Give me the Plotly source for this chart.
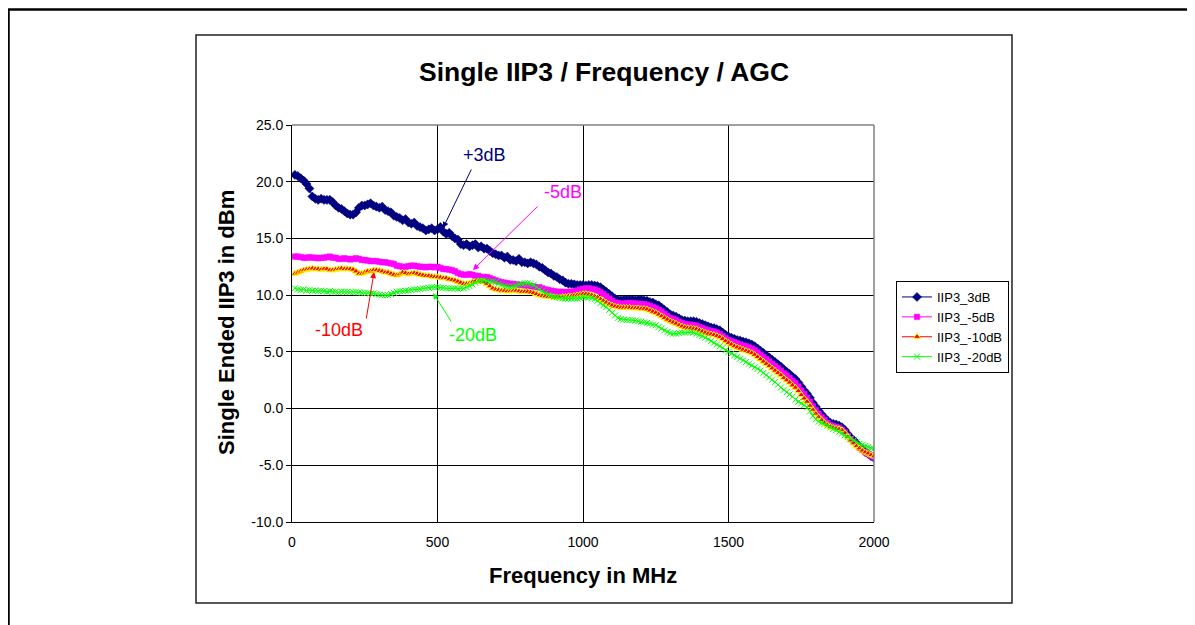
import plotly.graph_objects as go

freq_mhz = list(range(10, 2001, 10))

iip3_3db = [
    20.6, 20.5, 20.3, 20.1, 19.8, 19.4, 18.7, 18.5, 18.4, 18.5,
    18.4, 18.4, 18.4, 18.2, 17.9, 17.7, 17.6, 17.4, 17.2, 17.1,
    17.1, 17.3, 17.7, 17.9, 17.9, 18.0, 18.1, 17.9, 17.8, 17.7,
    17.8, 17.5, 17.4, 17.3, 17.0, 16.9, 16.8, 16.6, 16.7, 16.4,
    16.3, 16.4, 16.1, 16.0, 15.9, 15.7, 15.8, 15.9, 15.7, 15.8,
    16.0, 15.6, 15.4, 15.5, 15.2, 15.0, 14.9, 14.5, 14.4, 14.5,
    14.3, 14.4, 14.5, 14.2, 14.3, 14.1, 14.1, 13.9, 13.7, 13.6,
    13.5, 13.5, 13.3, 13.4, 13.1, 13.1, 13.0, 13.2, 12.9, 12.9,
    12.8, 12.9, 12.8, 12.7, 12.5, 12.4, 12.2, 12.0, 11.9, 11.7,
    11.6, 11.4, 11.3, 11.1, 11.0, 11.0, 10.95, 10.9, 10.9, 10.9,
    10.85, 10.9, 10.9, 10.85, 10.8, 10.7, 10.5, 10.3, 10.1, 9.9,
    9.7, 9.6, 9.55, 9.6, 9.6, 9.6, 9.6, 9.55, 9.6, 9.6,
    9.55, 9.5, 9.4, 9.35, 9.2, 9.1, 8.9, 8.7, 8.5, 8.3,
    8.2, 8.1, 7.95, 7.8, 7.75, 7.7, 7.7, 7.7, 7.65, 7.55,
    7.45, 7.35, 7.25, 7.15, 7.1, 7.0, 6.9, 6.7, 6.5, 6.35,
    6.25, 6.15, 6.05, 6.0, 5.9, 5.85, 5.75, 5.65, 5.5, 5.3,
    5.1, 4.9, 4.7, 4.5, 4.3, 4.1, 3.9, 3.7, 3.45, 3.25,
    3.05, 2.8, 2.6, 2.3, 1.95, 1.6, 1.3, 0.95, 0.5, 0.15,
    -0.2, -0.5, -0.8, -1.05, -1.25, -1.35, -1.4, -1.5, -1.65, -1.9,
    -2.25, -2.55, -2.8, -3.05, -3.35, -3.6, -3.85, -4.0, -4.2, -4.35,
]

iip3_m5db = [
    13.4, 13.4, 13.35, 13.3, 13.3, 13.35, 13.3, 13.3, 13.25, 13.3,
    13.3, 13.35, 13.4, 13.3, 13.3, 13.2, 13.2, 13.25, 13.2, 13.15,
    13.2, 13.25, 13.2, 13.1, 13.1, 13.05, 13.0, 13.0, 13.0, 12.95,
    12.9, 12.9, 12.85, 12.8, 12.75, 12.6, 12.55, 12.5, 12.5, 12.55,
    12.6, 12.6, 12.55, 12.5, 12.5, 12.45, 12.5, 12.5, 12.45, 12.5,
    12.4, 12.3, 12.3, 12.25, 12.2, 12.1, 11.95, 11.85, 11.8, 11.8,
    11.85, 11.8, 11.7, 11.7, 11.6, 11.6, 11.6, 11.5, 11.4, 11.3,
    11.2, 11.15, 11.1, 11.05, 11.0, 11.0, 10.95, 10.9, 10.9, 10.85,
    10.8, 10.8, 10.75, 10.7, 10.7, 10.6, 10.5, 10.45, 10.4, 10.35,
    10.3, 10.3, 10.3, 10.25, 10.3, 10.3, 10.35, 10.4, 10.5, 10.55,
    10.6, 10.6, 10.55, 10.5, 10.4, 10.25, 10.1, 9.9, 9.7, 9.5,
    9.35, 9.3, 9.25, 9.25, 9.3, 9.3, 9.3, 9.25, 9.25, 9.2,
    9.2, 9.15, 9.05, 8.95, 8.85, 8.7, 8.55, 8.35, 8.15, 8.0,
    7.9, 7.8, 7.65, 7.55, 7.45, 7.4, 7.4, 7.35, 7.3, 7.2,
    7.1, 7.0, 6.9, 6.85, 6.8, 6.7, 6.55, 6.4, 6.2, 6.05,
    5.95, 5.85, 5.75, 5.65, 5.55, 5.5, 5.4, 5.3, 5.15, 4.95,
    4.75, 4.55, 4.35, 4.15, 3.95, 3.75, 3.55, 3.35, 3.1, 2.9,
    2.7, 2.45, 2.25, 1.95, 1.6, 1.3, 0.95, 0.6, 0.2, -0.15,
    -0.45, -0.75, -1.0, -1.25, -1.45, -1.55, -1.6, -1.7, -1.85, -2.1,
    -2.4, -2.7, -2.95, -3.2, -3.45, -3.65, -3.85, -4.0, -4.15, -4.3,
]

iip3_m10db = [
    11.9, 12.0, 12.1, 12.2, 12.25, 12.3, 12.35, 12.3, 12.3, 12.25,
    12.3, 12.3, 12.2, 12.2, 12.25, 12.3, 12.35, 12.3, 12.3, 12.3,
    12.25, 12.1, 11.9, 11.9, 12.0, 12.1, 12.1, 12.2, 12.2, 12.15,
    12.1, 12.0, 12.0, 11.9, 11.8, 11.75, 11.85, 12.0, 11.95, 11.85,
    11.9, 11.95, 11.9, 11.8, 11.75, 11.7, 11.7, 11.65, 11.6, 11.6,
    11.55, 11.5, 11.5, 11.4, 11.35, 11.3, 11.2, 11.1, 11.0, 11.0,
    11.05, 11.15, 11.2, 11.2, 11.2, 11.15, 11.0, 10.8, 10.6, 10.5,
    10.45, 10.4, 10.4, 10.35, 10.35, 10.4, 10.4, 10.35, 10.3, 10.3,
    10.3, 10.25, 10.2, 10.1, 10.0, 9.95, 9.9, 9.85, 9.85, 9.8,
    9.8, 9.8, 9.85, 9.85, 9.9, 9.9, 9.95, 10.0, 10.05, 10.1,
    10.1, 10.05, 10.0, 9.9, 9.8, 9.65, 9.5, 9.35, 9.2, 9.1,
    9.0, 8.95, 8.9, 8.9, 8.9, 8.9, 8.85, 8.85, 8.85, 8.8,
    8.8, 8.75, 8.65, 8.55, 8.45, 8.3, 8.15, 8.0, 7.85, 7.7,
    7.6, 7.5, 7.35, 7.25, 7.15, 7.1, 7.1, 7.05, 7.0, 6.9,
    6.8, 6.7, 6.6, 6.55, 6.5, 6.4, 6.3, 6.15, 5.95, 5.8,
    5.65, 5.5, 5.4, 5.3, 5.2, 5.1, 5.0, 4.9, 4.75, 4.55,
    4.35, 4.15, 3.95, 3.75, 3.55, 3.35, 3.15, 2.95, 2.7, 2.5,
    2.3, 2.05, 1.85, 1.55, 1.2, 0.9, 0.6, 0.25, -0.1, -0.45,
    -0.75, -1.0, -1.25, -1.45, -1.6, -1.7, -1.75, -1.8, -1.9, -2.15,
    -2.5, -2.8, -3.05, -3.3, -3.5, -3.7, -3.85, -3.95, -4.1, -4.2,
]

iip3_m20db = [
    10.6, 10.5, 10.45, 10.5, 10.4, 10.45, 10.4, 10.4, 10.35, 10.4,
    10.35, 10.3, 10.35, 10.3, 10.3, 10.25, 10.3, 10.3, 10.3, 10.25,
    10.25, 10.3, 10.25, 10.2, 10.2, 10.2, 10.15, 10.15, 10.1, 10.05,
    10.0, 10.0, 10.0, 10.1, 10.2, 10.3, 10.35, 10.35, 10.4, 10.4,
    10.45, 10.5, 10.5, 10.55, 10.6, 10.6, 10.65, 10.7, 10.7, 10.7,
    10.65, 10.65, 10.6, 10.6, 10.6, 10.6, 10.55, 10.6, 10.6, 10.7,
    10.8, 10.95, 11.1, 11.25, 11.3, 11.3, 11.25, 11.2, 11.2, 11.15,
    11.0, 10.9, 10.8, 10.75, 10.7, 10.75, 10.85, 10.95, 11.0, 11.05,
    11.05, 11.0, 10.9, 10.7, 10.5, 10.35, 10.2, 10.05, 9.95, 9.85,
    9.8, 9.75, 9.7, 9.7, 9.7, 9.7, 9.7, 9.7, 9.75, 9.8,
    9.8, 9.8, 9.75, 9.65, 9.5, 9.3, 9.1, 8.95, 8.7, 8.45,
    8.2, 8.0, 7.9, 7.85, 7.8, 7.8, 7.8, 7.75, 7.7, 7.65,
    7.6, 7.55, 7.5, 7.4, 7.35, 7.2, 7.05, 6.9, 6.75, 6.65,
    6.6, 6.6, 6.65, 6.7, 6.7, 6.75, 6.75, 6.7, 6.6, 6.5,
    6.4, 6.25, 6.1, 5.95, 5.8, 5.65, 5.5, 5.35, 5.15, 5.0,
    4.85, 4.7, 4.55, 4.4, 4.25, 4.1, 3.95, 3.8, 3.65, 3.5,
    3.35, 3.15, 2.95, 2.75, 2.55, 2.35, 2.1, 1.85, 1.65, 1.45,
    1.25, 1.05, 0.8, 0.6, 0.45, 0.3, 0.1, -0.25, -0.65, -0.95,
    -1.15, -1.25, -1.35, -1.5, -1.65, -1.8, -1.9, -2.05, -2.2, -2.35,
    -2.5, -2.65, -2.8, -2.95, -3.1, -3.2, -3.3, -3.4, -3.5, -3.55,
]

series_names = ["IIP3_3dB", "IIP3_-5dB", "IIP3_-10dB", "IIP3_-20dB"]
x_ticks = [0, 500, 1000, 1500, 2000]
y_ticks = [-10, -5, 0, 5, 10, 15, 20, 25]

FONT = "Arial, Liberation Sans, sans-serif"

fig = go.Figure()
fig.add_trace(go.Scatter(
    x=freq_mhz, y=iip3_3db, name=series_names[0], mode="lines+markers",
    line=dict(color="#000080", width=1),
    marker=dict(symbol="diamond", size=7, color="#000080", line=dict(color="#000080", width=0.5)),
))
fig.add_trace(go.Scatter(
    x=freq_mhz, y=iip3_m5db, name=series_names[1], mode="lines+markers",
    line=dict(color="#FF00FF", width=1),
    marker=dict(symbol="square", size=5.5, color="#FF00FF", line=dict(color="#FF00FF", width=0.5)),
))
fig.add_trace(go.Scatter(
    x=freq_mhz, y=iip3_m10db, name=series_names[2], mode="lines+markers",
    line=dict(color="#FF0000", width=1),
    marker=dict(symbol="triangle-up", size=6.5, color="#FF0000", line=dict(color="#FFFF00", width=1)),
))
fig.add_trace(go.Scatter(
    x=freq_mhz, y=iip3_m20db, name=series_names[3], mode="lines+markers",
    line=dict(color="#00FF00", width=1),
    marker=dict(symbol="x-thin", size=6, color="#00FF00", line=dict(color="#00FF00", width=1)),
))

# page has an 8px body margin: figure origin sits at (8, 8) in the screenshot
OFF = 8
FW, FH = 1195 - OFF, 625 - OFF
L, T = 292 - OFF, 125 - OFF
W, H = 582, 397
R, B = FW - L - W, FH - T - H


def px(x):
    return (x - OFF - L) / W


def py(y):
    return (OFF + T + H - y) / H


shapes = [
    # outer frame (top and left visible)
    dict(type="rect", xref="paper", yref="paper", x0=px(8.5), x1=px(1230), y0=py(660), y1=py(9.5),
         line=dict(color="black", width=2.5), fillcolor="rgba(0,0,0,0)"),
    # chart area box
    dict(type="rect", xref="paper", yref="paper", x0=px(196), x1=px(1012), y0=py(603), y1=py(35),
         line=dict(color="#222222", width=1.5), fillcolor="rgba(0,0,0,0)"),
    # plot area top/right border (gray)
    dict(type="line", xref="paper", yref="paper", x0=0, x1=1, y0=1, y1=1,
         line=dict(color="#808080", width=1.5)),
    dict(type="line", xref="paper", yref="paper", x0=1, x1=1, y0=0, y1=1,
         line=dict(color="#808080", width=1.5)),
]

annotations = [
    dict(text="<b>Single IIP3 / Frequency / AGC</b>", xref="paper", yref="paper",
         x=px(604), y=py(72), showarrow=False, font=dict(size=26.5, color="black", family=FONT),
         xanchor="center", yanchor="middle"),
    dict(text="<b>Frequency in MHz</b>", xref="paper", yref="paper",
         x=px(583), y=py(575), showarrow=False, font=dict(size=22, color="black", family=FONT),
         xanchor="center", yanchor="middle"),
    dict(text="<b>Single Ended IIP3 in dBm</b>", xref="paper", yref="paper",
         x=px(226), y=py(323), showarrow=False, textangle=-90,
         font=dict(size=22, color="black", family=FONT), xanchor="center", yanchor="middle"),
]

# label texts and arrows (data coordinates)
labels = [
    ("+3dB", "#000080", 660, 22.35, 519, 15.92, 29, -60),
    ("-5dB", "#FF00FF", 931, 19.1, 622, 12.22, 66, -65),
    ("-10dB", "#FF0000", 162, 6.93, 282, 12.04, -8, 48),
    ("-20dB", "#00FF00", 622, 6.49, 485, 10.19, 19, 30),
]
for txt, col, tx, ty, ax_, ay_, dx, dy in labels:
    annotations.append(dict(text=txt, x=tx, y=ty, xref="x", yref="y", showarrow=False,
                            font=dict(size=18, color=col, family=FONT)))
    annotations.append(dict(text="", x=ax_, y=ay_, xref="x", yref="y", showarrow=True,
                            ax=dx, ay=dy, arrowcolor=col, arrowwidth=1, arrowhead=2,
                            arrowsize=1.2, standoff=0, startstandoff=0))

fig.update_layout(
    width=FW, height=FH,
    margin=dict(l=L, r=R, t=T, b=B, autoexpand=False),
    paper_bgcolor="white", plot_bgcolor="white",
    font=dict(family=FONT, color="black", size=14),
    showlegend=True,
    legend=dict(x=px(896), y=py(281), xanchor="left", yanchor="top",
                bordercolor="black", borderwidth=1, bgcolor="white",
                font=dict(size=13, family=FONT, color="black"),
                tracegroupgap=0, itemwidth=30),
    shapes=shapes,
    annotations=annotations,
)
fig.update_xaxes(
    range=[0, 2000], tickvals=x_ticks, ticktext=[str(v) for v in x_ticks],
    showgrid=True, gridcolor="black", gridwidth=1,
    showline=True, linecolor="black", linewidth=1,
    ticks="outside", ticklen=7, tickcolor="rgba(0,0,0,0)",
    zeroline=False, tickfont=dict(size=14, family=FONT, color="black"),
)
fig.update_yaxes(
    range=[-10, 25], tickvals=y_ticks, ticktext=[f"{v:.1f}" for v in y_ticks],
    showgrid=True, gridcolor="black", gridwidth=1,
    showline=True, linecolor="black", linewidth=1,
    ticks="outside", ticklen=5, tickcolor="black",
    zeroline=False, tickfont=dict(size=14, family=FONT, color="black"),
)

fig.write_html("out.html")
